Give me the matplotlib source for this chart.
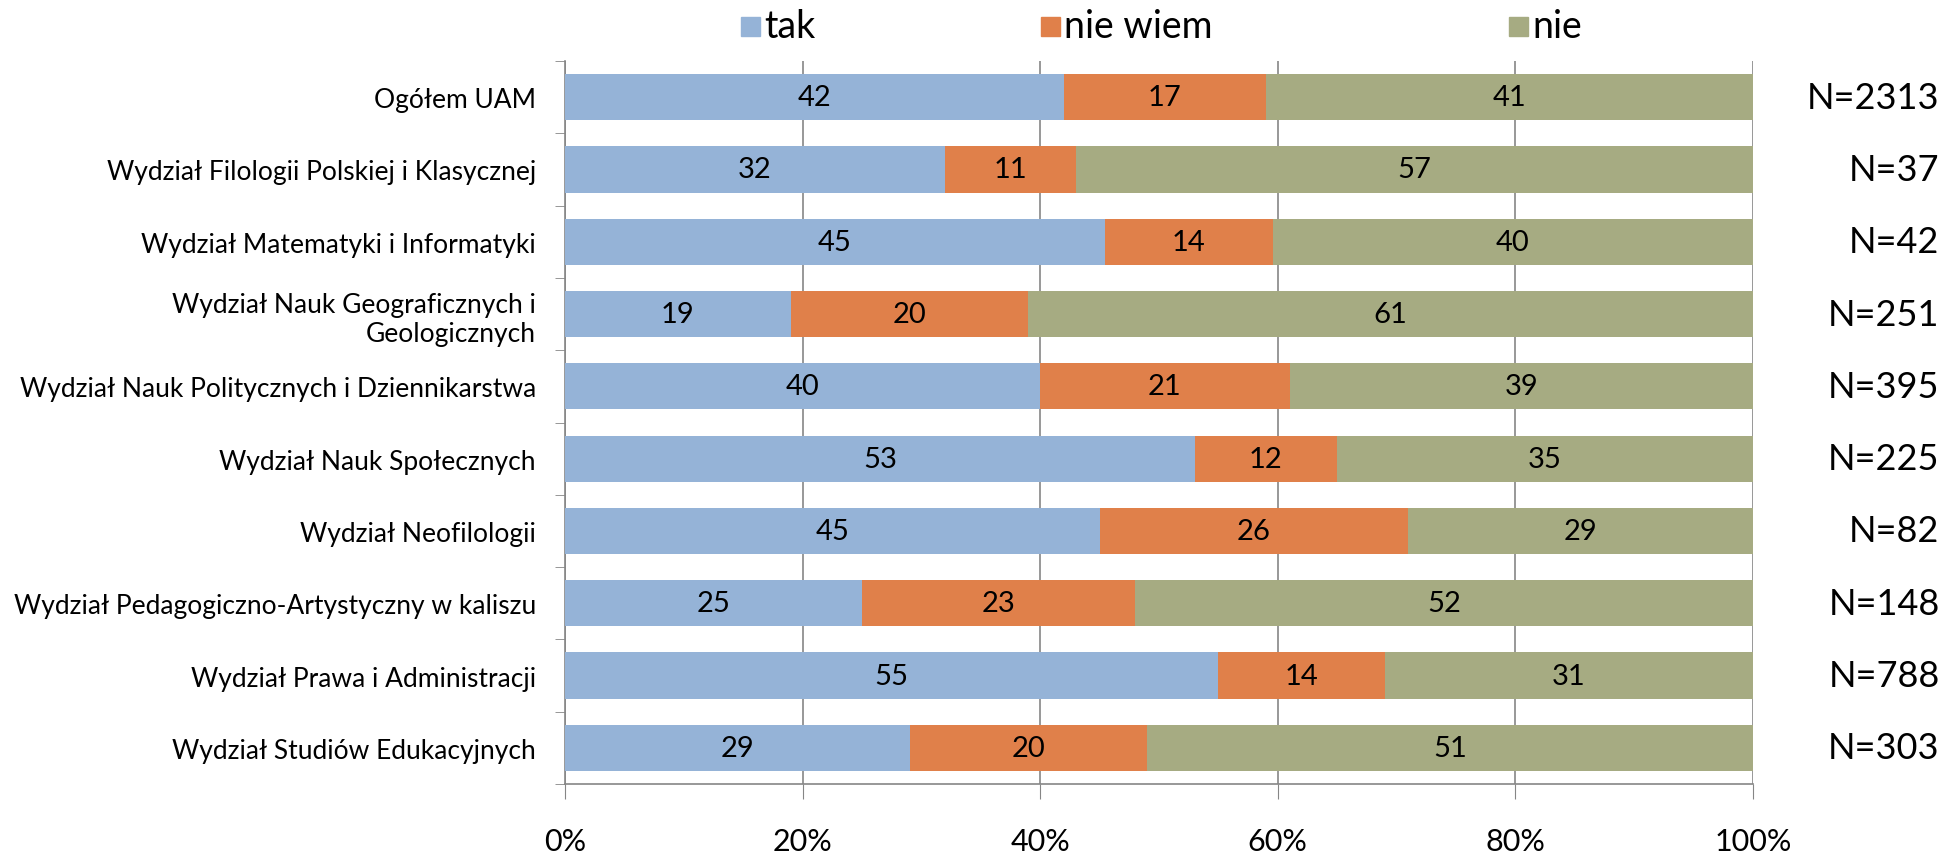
import numpy as np
import matplotlib.pyplot as plt
from matplotlib.ticker import FixedLocator
from matplotlib.patches import Rectangle

plt.rcParams['font.family'] = ['Lato', 'DejaVu Sans']

kategorie = ["Ogółem UAM",
             "Wydział Filologii Polskiej i Klasycznej",
             "Wydział Matematyki i Informatyki",
             "Wydział Nauk Geograficznych i\nGeologicznych",
             "Wydział Nauk Politycznych i Dziennikarstwa",
             "Wydział Nauk Społecznych",
             "Wydział Neofilologii",
             "Wydział Pedagogiczno-Artystyczny w kaliszu",
             "Wydział Prawa i Administracji",
             "Wydział Studiów Edukacyjnych"]
tak = [42, 32, 45, 19, 40, 53, 45, 25, 55, 29]
nie_wiem = [17, 11, 14, 20, 21, 12, 26, 23, 14, 20]
nie = [41, 57, 40, 61, 39, 35, 29, 52, 31, 51]
liczebnosc = ["N=2313", "N=37", "N=42", "N=251", "N=395", "N=225", "N=82", "N=148", "N=788", "N=303"]

serie = [("tak", tak, "#95b3d7"), ("nie wiem", nie_wiem, "#e0804a"), ("nie", nie, "#a6ab82")]

dane = np.array([tak, nie_wiem, nie], dtype=float)
proc = dane / dane.sum(axis=0) * 100

W, H = 1948, 853
fig = plt.figure(figsize=(W / 100, H / 100), dpi=100)
ax = fig.add_axes([565/W, 1 - 785/H, (1753-565)/W, (785-62)/H])

y = np.arange(len(kategorie))
left = np.zeros(len(kategorie))
for i, (nazwa, wart, kolor) in enumerate(serie):
    ax.barh(y, proc[i], left=left, height=0.64, color=kolor, label=nazwa, zorder=3)
    for j in range(len(y)):
        ax.text(left[j] + proc[i][j] / 2, y[j], str(wart[j]), ha='center', va='center',
                fontsize=21, color='black', zorder=4)
    left += proc[i]

ax.set_xlim(0, 100)
ax.set_ylim(len(kategorie) - 0.5, -0.5)
ax.set_xticks([0, 20, 40, 60, 80, 100])
ax.set_xticklabels(["0%", "20%", "40%", "60%", "80%", "100%"], fontsize=22)
ax.set_yticks(y)
ax.set_yticklabels(kategorie, fontsize=19)
ax.yaxis.set_minor_locator(FixedLocator(np.arange(-0.5, len(kategorie), 1)))
ax.tick_params(axis='y', which='major', length=0, pad=21)
ax.tick_params(axis='y', which='minor', length=7, color='#868686', direction='out')
ax.tick_params(axis='x', length=11, color='#868686', pad=20)
ax.grid(axis='x', color='#868686', linewidth=1.2, zorder=0)
for s in ['top', 'right']:
    ax.spines[s].set_visible(False)
for s in ['left', 'bottom']:
    ax.spines[s].set_color('#868686')
    ax.spines[s].set_linewidth(1.2)

for j in range(len(y)):
    ax.text(1.157, y[j], liczebnosc[j], transform=ax.get_yaxis_transform(),
            ha='right', va='center', fontsize=26)

# legenda rysowana recznie (rozstaw jak w oryginale)
leg_x = [750, 1050, 1518]
leg_y = 27
kw = 19
for (nazwa, wart, kolor), lx in zip(serie, leg_x):
    fig.patches.append(Rectangle(((lx - kw / 2) / W, 1 - (leg_y + kw / 2) / H), kw / W, kw / H,
                                 transform=fig.transFigure, color=kolor))
    fig.text((lx + kw / 2 + 5) / W, 1 - leg_y / H, nazwa, ha='left', va='center', fontsize=27)

fig.savefig("out.png", dpi=100)
